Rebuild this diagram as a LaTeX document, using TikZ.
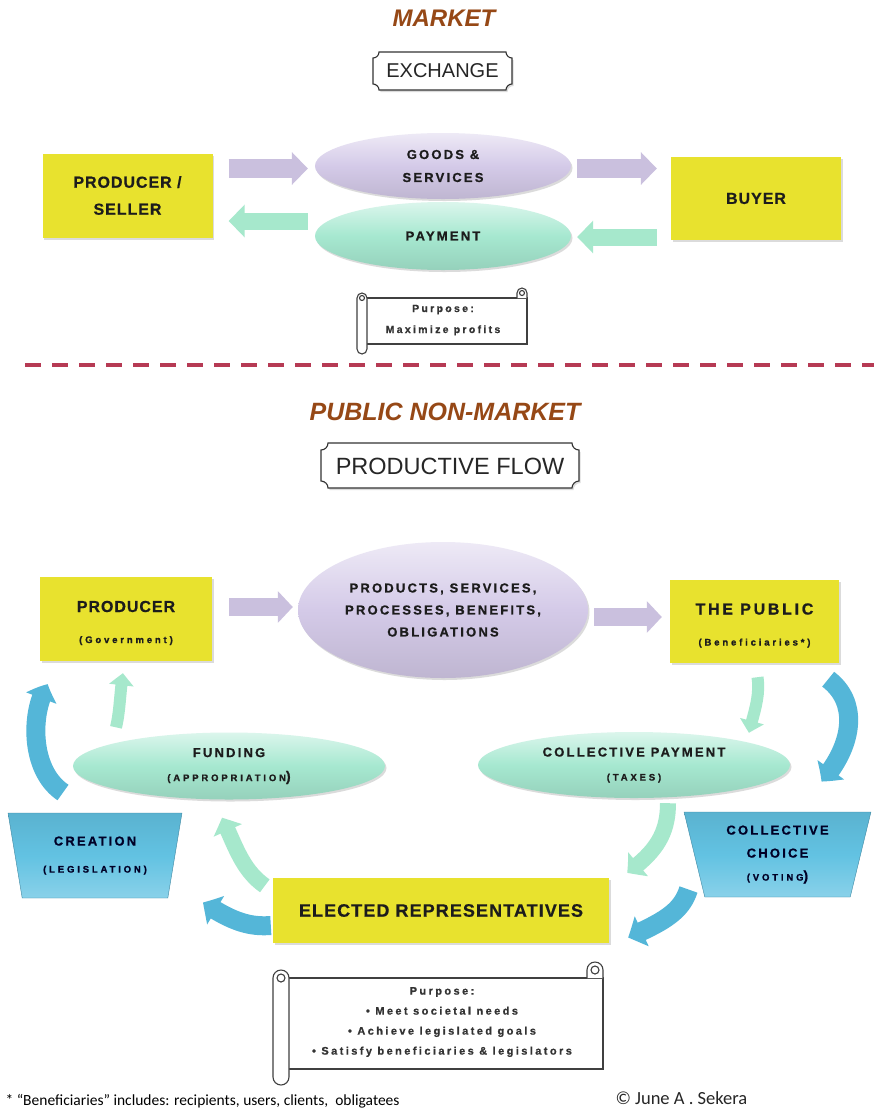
\documentclass[tikz,border=0pt]{standalone}
\usepackage{fontspec}
\setmainfont{Liberation Sans}
\newfontfamily\boxfont[LetterSpace=6, BoldFeatures={FakeBold=0.6}]{Liberation Sans}
\newfontfamily\widefont[LetterSpace=17, BoldFeatures={FakeBold=0.8}]{Liberation Sans}
\newfontfamily\tinyfont[LetterSpace=30, BoldFeatures={FakeBold=1.2}]{Liberation Sans}
\newfontfamily\aimfont[LetterSpace=22, BoldFeatures={FakeBold=0.8}]{Liberation Sans}
\newfontfamily\notefont{Carlito}
\usetikzlibrary{arrows.meta,bending,calc,positioning,shadows,shapes.geometric}

\definecolor{boxyellow}{RGB}{232,226,46}
\definecolor{lilac}{RGB}{212,202,232}
\definecolor{lilacarrow}{RGB}{202,192,222}
\definecolor{mint}{RGB}{166,232,208}
\definecolor{mintarrow}{RGB}{166,232,204}
\definecolor{skyarrow}{RGB}{84,182,216}
\definecolor{skybox}{RGB}{98,194,226}
\definecolor{titlebrown}{RGB}{150,72,22}
\definecolor{dashred}{RGB}{182,58,84}
\definecolor{inkgray}{RGB}{28,28,28}

\tikzset{
	x=1pt,
	y=-1pt,
	every node/.style={align=center, text=inkgray},
	softshadow/.style={drop shadow={opacity=.28, shadow xshift=1.5pt, shadow yshift=-2pt}},
	actor/.style={rectangle, fill=boxyellow, softshadow, minimum width=170pt, minimum height=84pt,
		font=\boxfont\bfseries\fontsize{16}{27}\selectfont},
	offer/.style={ellipse, shade, top color=lilac!40!white, bottom color=lilac!90!black, middle color=lilac,
		softshadow, inner sep=1pt, font=\widefont\bfseries\fontsize{13}{23}\selectfont},
	money/.style={ellipse, shade, top color=mint!40!white, bottom color=mint!90!black, middle color=mint,
		softshadow, inner sep=1pt, font=\widefont\bfseries\fontsize{13}{24}\selectfont},
	lawbox/.style={trapezium, trapezium stretches=true, shape border rotate=180, trapezium angle=76.5,
		draw=skyarrow!75!black, top color=skybox!92!black, bottom color=skybox!75!white, middle color=skybox,
		font=\widefont\bfseries\fontsize{13}{23}\selectfont, text=black!85!blue},
	headline/.style={font=\bfseries\itshape\fontsize{24}{28}\selectfont, text=titlebrown},
	plaque/.style={draw=black!80, fill=white, line width=1.1pt, softshadow},
	scrollline/.style={draw=black!75, fill=white, line width=1.1pt},
	lilacflow/.style={draw=lilacarrow, line width=19pt, -{Triangle[width=32pt,length=16pt]}},
	mintflow/.style={draw=mintarrow, line width=17pt, -{Triangle[width=32pt,length=16pt]}},
	skybend/.style={draw=skyarrow, line width=19pt, -{Triangle[width=32pt,length=15pt,bend]}},
	mintbend/.style={draw=mintarrow, line width=16pt, -{Triangle[width=30pt,length=14pt,bend]}},
	mintsmall/.style={draw=mintarrow, line width=12pt, -{Triangle[width=24pt,length=12pt,bend]}}
}

\newcommand\plaqueframe[5]{%
	\draw [plaque] ({#1-#3/2+#5},{#2-#4/2}) -- ({#1+#3/2-#5},{#2-#4/2})
		arc [start angle=180, end angle=90, radius=#5] -- ({#1+#3/2},{#2+#4/2-#5})
		arc [start angle=270, end angle=180, radius=#5] -- ({#1-#3/2+#5},{#2+#4/2})
		arc [start angle=0, end angle=-90, radius=#5] -- ({#1-#3/2},{#2-#4/2+#5})
		arc [start angle=90, end angle=0, radius=#5] -- cycle;}

\newcommand\scrollframe[5]{%
	\draw [scrollline] ({#1+#5},{#2+2*#5}) rectangle ({#3},{#4-2*#5});
	\draw [scrollline] ({#3-2*#5},{#2+2*#5}) -- ({#3-2*#5},{#2+#5})
		arc [start angle=180, end angle=360, radius=#5] -- ({#3},{#2+2*#5});
	\draw [scrollline] ({#3-#5},{#2+#5}) circle [radius={#5/2}];
	\draw [scrollline] ({#1},{#2+2*#5}) -- ({#1},{#4-#5})
		arc [start angle=180, end angle=0, radius=#5] -- ({#1+2*#5},{#2+2*#5})
		arc [start angle=0, end angle=-180, radius=#5] -- cycle;
	\draw [scrollline] ({#1+#5},{#2+2*#5}) circle [radius={#5/2}];}

\begin{document}
\begin{tikzpicture}
	\fill [white] (0,0) rectangle (874,1112);
	\useasboundingbox (0,0) rectangle (874,1112);

	\node [headline] (markettitle) at (444,18) {MARKET};
	\plaqueframe{442.5}{71}{139}{38}{6}
	\node [font=\fontsize{20}{24}\selectfont, text=black!85] (exchange) at (442.5,71) {EXCHANGE};

	\node [actor] (seller) at (127.5,195.5) {PRODUCER /\\SELLER};
	\node [actor, minimum height=83pt] (buyer) at (756,198.5) {BUYER};
	\node [offer, minimum width=256pt, minimum height=66pt] (goods) at (443,166) {GOODS \&\\SERVICES};
	\node [money, minimum width=256pt, minimum height=68pt] (payment) at (443,236) {PAYMENT};

	\draw [lilacflow] ($(seller.east)+(16,-27)$) -- ($(goods.west)+(-7,2.5)$);
	\draw [lilacflow] ($(goods.east)+(6,2.5)$) -- ($(buyer.west)+(-14,-30)$);
	\draw [mintflow] ($(payment.west)+(-7,-15)$) -- ($(seller.east)+(16,25.5)$);
	\draw [mintflow] ($(buyer.west)+(-14,38.5)$) -- ($(payment.east)+(6,1)$);

	\scrollframe{357}{288}{527}{354}{5}
	\node [font=\aimfont\bfseries\fontsize{10.5}{21}\selectfont, text=black!80] (profitaim) at (443,320) {Purpose:\\Maximize profits};

	\draw [dashred, line width=4pt, dash pattern=on 16pt off 11pt] (25,365) -- (874,365);

	\node [headline, font=\bfseries\itshape\fontsize{25}{28}\selectfont] (publictitle) at (445,412) {PUBLIC NON-MARKET};
	\plaqueframe{450}{465.5}{258}{45}{7}
	\node [font=\fontsize{23.5}{26}\selectfont, text=black!85] (productive) at (450,466) {PRODUCTIVE FLOW};

	\node [actor, minimum width=172pt, font=\boxfont\bfseries\fontsize{16}{31}\selectfont] (producer) at (126,619)
		{\rule{0pt}{19pt}PRODUCER\\{\tinyfont\fontsize{9.5}{10}\selectfont (Government)}};
	\node [actor, minimum width=169pt, minimum height=83pt, font=\widefont\bfseries\fontsize{16}{31}\selectfont] (public) at (754.5,621.5)
		{\rule{0pt}{19pt}THE PUBLIC\\{\tinyfont\fontsize{9.5}{10}\selectfont (Beneficiaries*)}};
	\node [offer, minimum width=290pt, minimum height=136pt, font=\widefont\bfseries\fontsize{13}{22}\selectfont] (flows) at (443,610)
		{PRODUCTS, SERVICES,\\PROCESSES, BENEFITS,\\OBLIGATIONS};
	\node [money, minimum width=312pt, minimum height=67pt] (funding) at (229,766)
		{FUNDING\\{\tinyfont\fontsize{9.5}{10}\selectfont (APPROPRIATION}{\fontsize{14}{10}\selectfont)}};
	\node [money, minimum width=312pt, minimum height=66pt] (collpay) at (634,765)
		{COLLECTIVE PAYMENT\\{\tinyfont\fontsize{9.5}{10}\selectfont (TAXES)}};
	\node [lawbox, minimum width=174pt, minimum height=85pt, font=\widefont\bfseries\fontsize{13}{27}\selectfont] (creation) at (95,855.5)
		{CREATION\\{\tinyfont\fontsize{9.5}{10}\selectfont (LEGISLATION)}};
	\node [lawbox, minimum width=187pt, minimum height=85pt] (choice) at (777.5,854.5)
		{COLLECTIVE\\CHOICE\\{\tinyfont\fontsize{9.5}{10}\selectfont (VOTING}{\fontsize{14}{10}\selectfont)}};
	\node [actor, minimum width=336pt, minimum height=65pt, font=\boxfont\bfseries\fontsize{18}{22}\selectfont] (elected) at (441,910.5)
		{ELECTED REPRESENTATIVES};

	\draw [lilacflow, line width=18pt, -{Triangle[width=31pt,length=15pt]}] ($(producer.east)+(17,-12)$) -- ($(flows.west)+(-5,-3)$);
	\draw [lilacflow, line width=18pt, -{Triangle[width=31pt,length=15pt]}] ($(flows.east)+(6,7)$) -- ($(public.west)+(-8,-4.5)$);

	\draw [skybend] ($(creation)+(-32,-63)$) .. controls +(-33,-22) and +(-18,28) .. ($(producer.south west)+(8,23)$);
	\draw [mintsmall] ($(funding.north)+(-113,-5)$) .. controls +(4,-16) and +(-3,18) .. ($(producer.south)+(-3,12)$);
	\draw [mintsmall] ($(public.south)+(3,14)$) .. controls +(3,20) and +(4,-18) .. ($(collpay.north)+(115,1)$);
	\draw [skybend] ($(public.south east)+(-11,16)$) .. controls +(34,26) and +(28,-31) .. ($(choice)+(44,-73)$);
	\draw [mintbend] ($(elected.north west)+(-8,8)$) .. controls +(-23,-16) and +(13,27) .. ($(funding.south)+(-7,18)$);
	\draw [skybend] ($(elected.west)+(-2,15)$) .. controls +(-25,2) and +(25,16) .. ($(creation)+(108,47)$);
	\draw [mintbend] ($(collpay.south)+(34,5)$) .. controls +(0,30) and +(29,-21) .. ($(elected.north east)+(18,-5)$);
	\draw [skybend] ($(choice)+(-89,35)$) .. controls +(-7,22) and +(36,-16) .. ($(elected.east)+(19,27)$);

	\scrollframe{273}{962}{603}{1085}{8}
	\node [font=\aimfont\bfseries\fontsize{11}{20}\selectfont, text=black!80] (publicaim) at (442,1022)
		{Purpose:\\• Meet societal needs\\• Achieve legislated goals\\• Satisfy beneficiaries \& legislators};

	\node [anchor=west, font=\notefont\fontsize{15.5}{17}\selectfont, text=black] (footnote) at (2,1101)
		{* “Beneficiaries” includes: recipients, users, clients,\ \ obligatees};
	\node [anchor=west, font=\notefont\fontsize{18.5}{20}\selectfont, text=black!85] (credit) at (612,1098)
		{© June A . Sekera};
\end{tikzpicture}
\end{document}
